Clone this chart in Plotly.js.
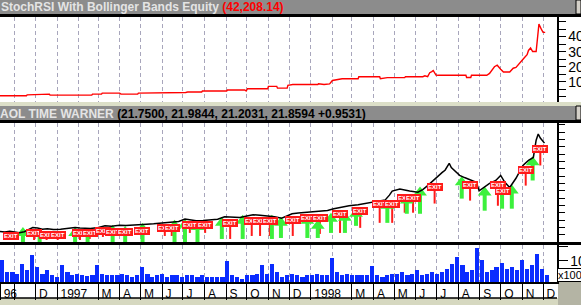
<!DOCTYPE html>
<html><head><meta charset="utf-8">
<script src="https://cdn.plot.ly/plotly-3.0.1.min.js"></script>
<style>html,body{margin:0;padding:0;background:#fff;overflow:hidden}</style>
</head><body>
<div id="chart" style="width:581px;height:305px"></div>
<script>
// ---------- DATA ----------
const equityTitle = 'StochRSI With Bollinger Bands Equity';
const equityReadout = '(42,208.14)';
const priceTitle = 'AOL TIME WARNER';
const priceReadout = '(21.7500, 21.9844, 21.2031, 21.8594 +0.9531)';

const equityDates = ['1996-10-11','1996-11-18','1996-11-19','1996-11-26','1996-11-27','1996-12-21','1996-12-22','1997-01-24','1997-01-25','1997-01-27','1997-02-20','1997-02-21','1997-03-06','1997-03-07','1997-04-01','1997-04-03','1997-04-27','1997-04-28','1997-07-01','1997-07-05','1997-07-08','1997-07-28','1997-07-29','1997-09-02','1997-09-03','1997-09-28','1997-09-30','1997-10-02','1997-10-31','1997-11-01','1997-11-13','1997-11-14','1997-11-28','1997-11-29','1997-12-06','1998-01-11','1998-01-12','1998-01-20','1998-01-28','1998-02-01','1998-02-15','1998-03-10','1998-03-11','1998-04-10','1998-04-11','1998-04-21','1998-05-16','1998-05-17','1998-06-11','1998-06-14','1998-06-18','1998-06-21','1998-06-24','1998-06-26','1998-06-30','1998-07-03','1998-08-12','1998-08-13','1998-08-19','1998-08-20','1998-09-11','1998-09-15','1998-09-22','1998-09-26','1998-10-01','1998-10-05','1998-10-14','1998-10-19','1998-10-23','1998-10-29','1998-11-04','1998-11-08','1998-11-10','1998-11-13','1998-11-16','1998-11-21','1998-11-23','1998-11-25','1998-11-29','1998-12-01','1998-12-04'];
const equityValues = [700,700,1360,1360,1800,1800,1150,1150,1400,1150,1150,1800,1800,2500,2500,1800,1800,2500,2500,2900,3200,3200,3900,3900,4550,4550,3900,5400,5400,7000,7000,5800,5800,7700,8200,8200,8700,8200,8600,10900,12000,12000,13400,13400,12000,12800,12800,13400,13400,14000,13400,16000,16800,17500,14500,14300,14300,12900,12900,14300,14300,15600,20000,21000,18400,16500,16500,19000,19500,23000,26000,28000,30800,32400,30100,30100,41000,48300,44400,42800,42800];

const priceDates = ['1996-10-11','1996-10-18','1996-10-25','1996-11-01','1996-11-08','1996-11-15','1996-11-22','1996-11-27','1996-12-04','1996-12-11','1996-12-18','1996-12-27','1997-01-06','1997-01-13','1997-01-20','1997-01-27','1997-02-03','1997-02-10','1997-02-18','1997-02-27','1997-03-05','1997-03-11','1997-03-20','1997-04-01','1997-04-10','1997-04-18','1997-04-26','1997-05-03','1997-05-10','1997-05-20','1997-06-05','1997-06-15','1997-06-25','1997-07-04','1997-07-12','1997-07-20','1997-07-30','1997-08-09','1997-08-20','1997-08-30','1997-09-10','1997-09-21','1997-10-01','1997-10-10','1997-10-20','1997-10-31','1997-11-10','1997-11-20','1997-11-27','1997-12-05','1997-12-14','1997-12-23','1998-01-05','1998-01-14','1998-01-25','1998-02-03','1998-02-12','1998-02-25','1998-03-10','1998-03-20','1998-03-31','1998-04-10','1998-04-18','1998-04-24','1998-04-28','1998-05-09','1998-05-16','1998-05-23','1998-06-04','1998-06-11','1998-06-18','1998-06-26','1998-07-03','1998-07-09','1998-07-13','1998-07-19','1998-07-22','1998-07-26','1998-08-03','1998-08-10','1998-08-15','1998-08-22','1998-08-27','1998-08-31','1998-09-07','1998-09-15','1998-09-24','1998-10-01','1998-10-07','1998-10-14','1998-10-23','1998-11-02','1998-11-10','1998-11-17','1998-11-21','1998-11-24','1998-11-27','1998-12-03'];
const priceValues = [2.84,2.7,2.9,2.75,2.56,2.8,3.5,3.94,3.8,3.5,3.6,3.4,3.5,3.6,3.7,3.94,3.8,3.66,3.7,3.86,4.2,4.41,4.3,4.6,4.5,4.65,4.6,4.8,4.88,5.0,5.3,5.4,5.6,6.25,6.0,5.8,5.9,6.0,6.2,6.9,6.8,6.7,7.1,7.44,7.3,7.16,6.9,6.5,7.0,7.7,7.9,8.07,8.2,8.35,8.6,9.1,9.45,9.9,10.2,10.5,10.8,11.2,11.5,12.8,13.9,14.5,14.2,13.9,13.6,14.3,15.4,16.8,18.2,19.0,19.6,21.5,20.3,19.6,18.2,17.6,17.2,16.8,16.3,14.0,14.9,16.0,16.8,18.2,16.3,14.9,17.4,20.9,22.3,23.1,27.8,29.5,28.4,27.0];

const volumeDates = ['1996-10-14','1996-10-21','1996-10-29','1996-11-05','1996-11-12','1996-11-19','1996-11-26','1996-12-03','1996-12-11','1996-12-18','1996-12-25','1997-01-01','1997-01-08','1997-01-16','1997-01-23','1997-01-30','1997-02-06','1997-02-13','1997-02-21','1997-02-28','1997-03-07','1997-03-14','1997-03-21','1997-03-29','1997-04-05','1997-04-12','1997-04-19','1997-04-26','1997-05-03','1997-05-11','1997-05-18','1997-05-25','1997-06-01','1997-06-08','1997-06-16','1997-06-23','1997-06-30','1997-07-07','1997-07-14','1997-07-22','1997-07-29','1997-08-05','1997-08-12','1997-08-19','1997-08-27','1997-09-03','1997-09-10','1997-09-17','1997-09-24','1997-10-01','1997-10-09','1997-10-16','1997-10-23','1997-10-30','1997-11-06','1997-11-13','1997-11-20','1997-11-28','1997-12-05','1997-12-12','1997-12-20','1997-12-27','1998-01-03','1998-01-10','1998-01-17','1998-01-24','1998-02-01','1998-02-08','1998-02-15','1998-02-22','1998-03-01','1998-03-09','1998-03-16','1998-03-23','1998-03-30','1998-04-06','1998-04-14','1998-04-21','1998-04-28','1998-05-05','1998-05-12','1998-05-20','1998-05-27','1998-06-03','1998-06-10','1998-06-17','1998-06-24','1998-07-02','1998-07-09','1998-07-16','1998-07-23','1998-07-30','1998-08-07','1998-08-14','1998-08-21','1998-08-28','1998-09-04','1998-09-11','1998-09-18','1998-09-25','1998-10-03','1998-10-10','1998-10-17','1998-10-24','1998-11-01','1998-11-08','1998-11-15','1998-11-22','1998-11-30','1998-12-07'];
const volumeValues = [10.3,4.8,4.8,4.0,8.7,5.6,12.7,7.1,4.0,5.6,3.2,2.4,7.9,4.8,3.2,4.0,3.2,2.9,3.2,7.9,4.0,3.2,3.2,3.2,4.0,3.2,2.4,3.2,7.1,4.0,2.4,3.2,4.0,2.4,3.2,3.2,2.4,3.2,3.2,2.4,3.2,2.4,2.4,2.4,2.4,10.0,3.2,2.4,1.6,3.2,3.2,4.0,7.9,4.0,8.7,4.8,2.4,3.2,4.0,3.2,2.4,3.2,3.2,4.0,3.2,3.2,11.6,4.8,3.2,4.0,3.2,3.2,3.2,3.2,7.5,3.2,2.4,3.2,4.0,4.0,4.8,3.2,4.0,5.6,3.2,4.0,4.8,4.0,4.8,6.3,8.4,11.9,7.9,4.8,5.6,16.3,10.3,4.8,5.6,7.1,9.0,6.3,7.1,5.6,10.6,6.3,7.9,13.2,6.3,3.2];

// buy signals (green arrows): date, arrow-head price, arrow-foot price
const buyDates = ['1996-11-13','1996-12-07','1997-01-27','1997-02-14','1997-03-22','1997-04-09','1997-05-04','1997-06-19','1997-07-04','1997-07-22','1997-08-26','1997-09-25','1997-11-06','1997-11-19','1997-12-27','1998-01-11','1998-01-30','1998-02-19','1998-03-07','1998-04-21','1998-05-19','1998-06-07','1998-08-06','1998-09-08','1998-10-03','1998-10-17','1998-11-16'];
const buyTop = [2.48,2.2,2.48,2.2,3.03,2.75,3.58,4.41,4.68,4.13,5.23,5.79,5.79,5.23,5.79,4.41,6.34,6.61,7.71,9.92,11.3,13.5,16.3,13.5,14.05,14.05,21.8];
const buyFoot = [0,0,0,0,0,0,0,0,0,0,0.83,0.83,0.83,1.1,1.1,1.1,2.48,2.48,4.41,5.23,7.71,7.71,11.85,8.55,9.1,9.1,16.8];

// exit signals (red boxes): date, box price, stem-foot price
const exitDates = ['1996-10-27','1996-11-29','1996-12-17','1997-01-02','1997-02-03','1997-02-17','1997-03-08','1997-03-22','1997-04-09','1997-05-03','1997-06-05','1997-06-15','1997-07-11','1997-08-02','1997-09-07','1997-10-08','1997-10-20','1997-11-03','1997-12-06','1997-12-28','1998-01-14','1998-02-12','1998-03-13','1998-04-10','1998-04-28','1998-05-16','1998-05-28','1998-06-28','1998-08-18','1998-09-27','1998-10-04','1998-11-06','1998-11-27'];
const exitPrice = [1.65,2.48,1.93,1.93,2.48,2.48,3.03,2.75,2.75,3.03,3.86,3.86,4.68,4.68,5.23,5.79,5.79,5.79,6.06,6.61,6.61,7.71,8.54,10.47,10.47,12.1,12.1,14.9,15.7,15.7,13.8,19.8,25.3];
const exitFoot = [1.65,0.55,0.55,0.55,0.55,0.83,1.38,0.83,0.83,1.38,1.65,1.65,2.48,2.48,0.83,1.65,1.65,1.65,1.65,2.2,2.2,2.48,3.86,5.23,5.23,8.0,8.0,10.5,11.3,9.9,9.4,15.4,20.9];

const monthStarts = ['1996-11-01','1996-12-01','1997-01-01','1997-02-01','1997-03-01','1997-04-01','1997-05-01','1997-06-01','1997-07-01','1997-08-01','1997-09-01','1997-10-01','1997-11-01','1997-12-01','1998-01-01','1998-02-01','1998-03-01','1998-04-01','1998-05-01','1998-06-01','1998-07-01','1998-08-01','1998-09-01','1998-10-01','1998-11-01','1998-12-01'];
const axisTickDates = ['1996-10-11 06:00','1996-11-01','1996-12-01','1997-01-01','1997-03-01','1997-04-01','1997-05-01','1997-06-01','1997-07-01','1997-08-01','1997-09-01','1997-10-01','1997-11-01','1997-12-01','1998-01-01','1998-03-01','1998-04-01','1998-05-01','1998-06-01','1998-07-01','1998-08-01','1998-09-01','1998-10-01','1998-11-01','1998-12-01'];
const axisTickLabels = ['96','','D','1997','M','A','M','J','J','A','S','O','N','D','1998','M','A','M','J','J','A','S','O','N','D'];
const equityTickVals = [10000,20000,30000,40000];
const equityTickText = ['10000','20000','30000','40000'];
const volumeTickVals = [10,16.7];
const volumeTickText = ['10',''];
const volumeUnit = 'x100';

// ---------- LAYOUT HELPERS ----------
const W = 581, H = 305;
const px = v => v / W;
const py = v => 1 - v / H;
const FONT = 'Liberation Sans, Arial, sans-serif';
const GRID = '#a8a6bc';
const xRange = ['1996-10-11', '1998-12-21'];
const xDom = [0, px(557)];

// stems
const buyStemX = [], buyStemY = [];
buyDates.forEach((d, i) => { buyStemX.push(d, d, null); buyStemY.push(buyTop[i], buyFoot[i], null); });
const exitStemX = [], exitStemY = [];
exitDates.forEach((d, i) => { exitStemX.push(d, d, null); exitStemY.push(exitPrice[i], exitFoot[i], null); });

const traces = [
  {type:'scatter', mode:'lines', x:equityDates, y:equityValues, xaxis:'x', yaxis:'y',
   line:{color:'#ff0000', width:1.4}, hoverinfo:'skip'},
  {type:'scatter', mode:'lines', x:exitStemX, y:exitStemY, xaxis:'x2', yaxis:'y2',
   line:{color:'#ff1a1a', width:2}, hoverinfo:'skip'},
  {type:'scatter', mode:'lines', x:buyStemX, y:buyStemY, xaxis:'x2', yaxis:'y2',
   line:{color:'#3cf03c', width:4}, hoverinfo:'skip'},
  {type:'scatter', mode:'markers', x:buyDates, y:buyTop, xaxis:'x2', yaxis:'y2',
   marker:{symbol:'triangle-up', size:12, color:'#3cf03c', line:{width:0}}, hoverinfo:'skip'},
  {type:'scatter', mode:'lines', x:priceDates, y:priceValues, xaxis:'x2', yaxis:'y2',
   line:{color:'#000000', width:1.5}, hoverinfo:'skip'},
  {type:'bar', x:volumeDates, y:volumeValues, xaxis:'x3', yaxis:'y3',
   width: 6*86400000, marker:{color:'#0a2cff', line:{width:0}}, hoverinfo:'skip'}
];

const gridX = {
  type:'date', range:xRange, domain:xDom, tickmode:'array', tickvals:monthStarts,
  showticklabels:false, ticks:'', showgrid:true, gridcolor:GRID, gridwidth:1, griddash:'4px,3px',
  zeroline:false, showline:false, fixedrange:true
};

const annotations = [
  {xref:'paper', yref:'paper', x:px(-1), y:py(7), xanchor:'left', yanchor:'middle', showarrow:false,
   text:'<b>' + equityTitle + ' <span style="color:#ff0000">' + equityReadout + '</span></b>',
   font:{family:FONT, size:12, color:'#e4e4e4'}},
  {xref:'paper', yref:'paper', x:px(-2), y:py(113.5), xanchor:'left', yanchor:'middle', showarrow:false,
   text:'<b>' + priceTitle + ' <span style="color:#000000">' + priceReadout + '</span></b>',
   font:{family:FONT, size:12, color:'#e4e4e4'}},
  {xref:'paper', yref:'paper', x:px(570), y:py(275), xanchor:'center', yanchor:'middle', showarrow:false,
   text:volumeUnit, font:{family:FONT, size:11, color:'#000'}, bgcolor:'#ffffff', bordercolor:'#000', borderwidth:1, borderpad:0}
];
exitDates.forEach((d, i) => annotations.push({
  xref:'x2', yref:'y2', x:d, y:exitPrice[i], showarrow:false, xanchor:'center', yanchor:'middle',
  text:'<b>EXIT</b>', font:{family:FONT, size:6, color:'#ffffff'},
  bgcolor:'#ff1a1a', bordercolor:'#ff1a1a', borderwidth:1, borderpad:0
}));

const rect = (x0, y0, x1, y1, fill, extra) => Object.assign({type:'rect', xref:'paper', yref:'paper',
  x0:px(x0), x1:px(x1), y0:py(y1), y1:py(y0), fillcolor:fill, line:{width:0}, layer:'below'}, extra||{});

const shapes = [
  rect(0, 0, 576, 14, '#8c8c8c'),
  rect(576, 0, 581, 14, '#d4d0c8', {line:{color:'#000', width:1}}),
  rect(0, 14, 581, 17, '#000000'),
  rect(0, 102, 581, 106, '#dcdfc8'),
  rect(0, 106, 576, 120, '#8c8c8c'),
  rect(576, 106, 581, 120, '#d4d0c8', {line:{color:'#000', width:1}}),
  rect(0, 120, 581, 123, '#000000'),
  rect(0, 242, 581, 245, '#000000', {layer:'above'}),
  rect(0, 298, 581, 305, '#d6d8c0'),
  rect(558, 282, 581, 305, '#b4b4a4'),
  {type:'line', xref:'paper', yref:'paper', x0:0, x1:px(557), y0:py(298), y1:py(298), line:{color:'#000', width:1.5}}
];

const layout = {
  width:W, height:H, margin:{l:0, r:0, t:0, b:0},
  paper_bgcolor:'#ffffff', plot_bgcolor:'#ffffff', showlegend:false,
  font:{family:FONT, size:12, color:'#000'},
  bargap:0,
  xaxis: Object.assign({}, gridX, {anchor:'y'}),
  xaxis2: Object.assign({}, gridX, {anchor:'y2', matches:'x'}),
  xaxis3: {
    type:'date', range:xRange, domain:xDom, anchor:'y3', matches:'x',
    tickmode:'array', tickvals:axisTickDates, ticktext:axisTickLabels, tickangle:0,
    ticks:'outside', ticklen:16, tickwidth:1, tickcolor:'#000',
    ticklabelposition:'outside right', ticklabelstandoff:0, ticklabelshift:2,
    tickfont:{family:FONT, size:12, color:'#000'},
    showline:true, linecolor:'#000', linewidth:2,
    showgrid:false, zeroline:false, fixedrange:true,
    minor:{tickmode:'array', tickvals:monthStarts, showgrid:true, gridcolor:GRID, gridwidth:1, griddash:'4px,3px', ticks:''}
  },
  yaxis: {
    domain:[py(102), py(17)], anchor:'x', side:'right', range:[-3400, 53000],
    tickmode:'array', tickvals:equityTickVals, ticktext:equityTickText,
    ticks:'outside', ticklen:7, tickcolor:'#000', tickfont:{family:FONT, size:14, color:'#000'},
    minor:{dtick:5000, ticks:'outside', ticklen:7, tickcolor:'#000', showgrid:false},
    showline:true, linecolor:'#000', linewidth:1.5, showgrid:false, zeroline:false, fixedrange:true
  },
  yaxis2: {
    domain:[py(242), py(123)], anchor:'x2', side:'right', range:[0, 32.5],
    dtick:2, tick0:0, ticks:'outside', ticklen:6, tickcolor:'#000', showticklabels:false,
    showline:true, linecolor:'#000', linewidth:1.5, showgrid:false, zeroline:false, fixedrange:true
  },
  yaxis3: {
    domain:[py(282), py(245)], anchor:'x3', side:'right', range:[0, 17.6],
    tickmode:'array', tickvals:volumeTickVals, ticktext:volumeTickText,
    ticks:'outside', ticklen:9, tickcolor:'#000', tickfont:{family:FONT, size:14, color:'#000'},
    showline:true, linecolor:'#000', linewidth:1.5, showgrid:false, zeroline:false, fixedrange:true
  },
  shapes: shapes,
  annotations: annotations
};

Plotly.newPlot('chart', traces, layout, {displayModeBar:false, staticPlot:true});
</script>
</body></html>
